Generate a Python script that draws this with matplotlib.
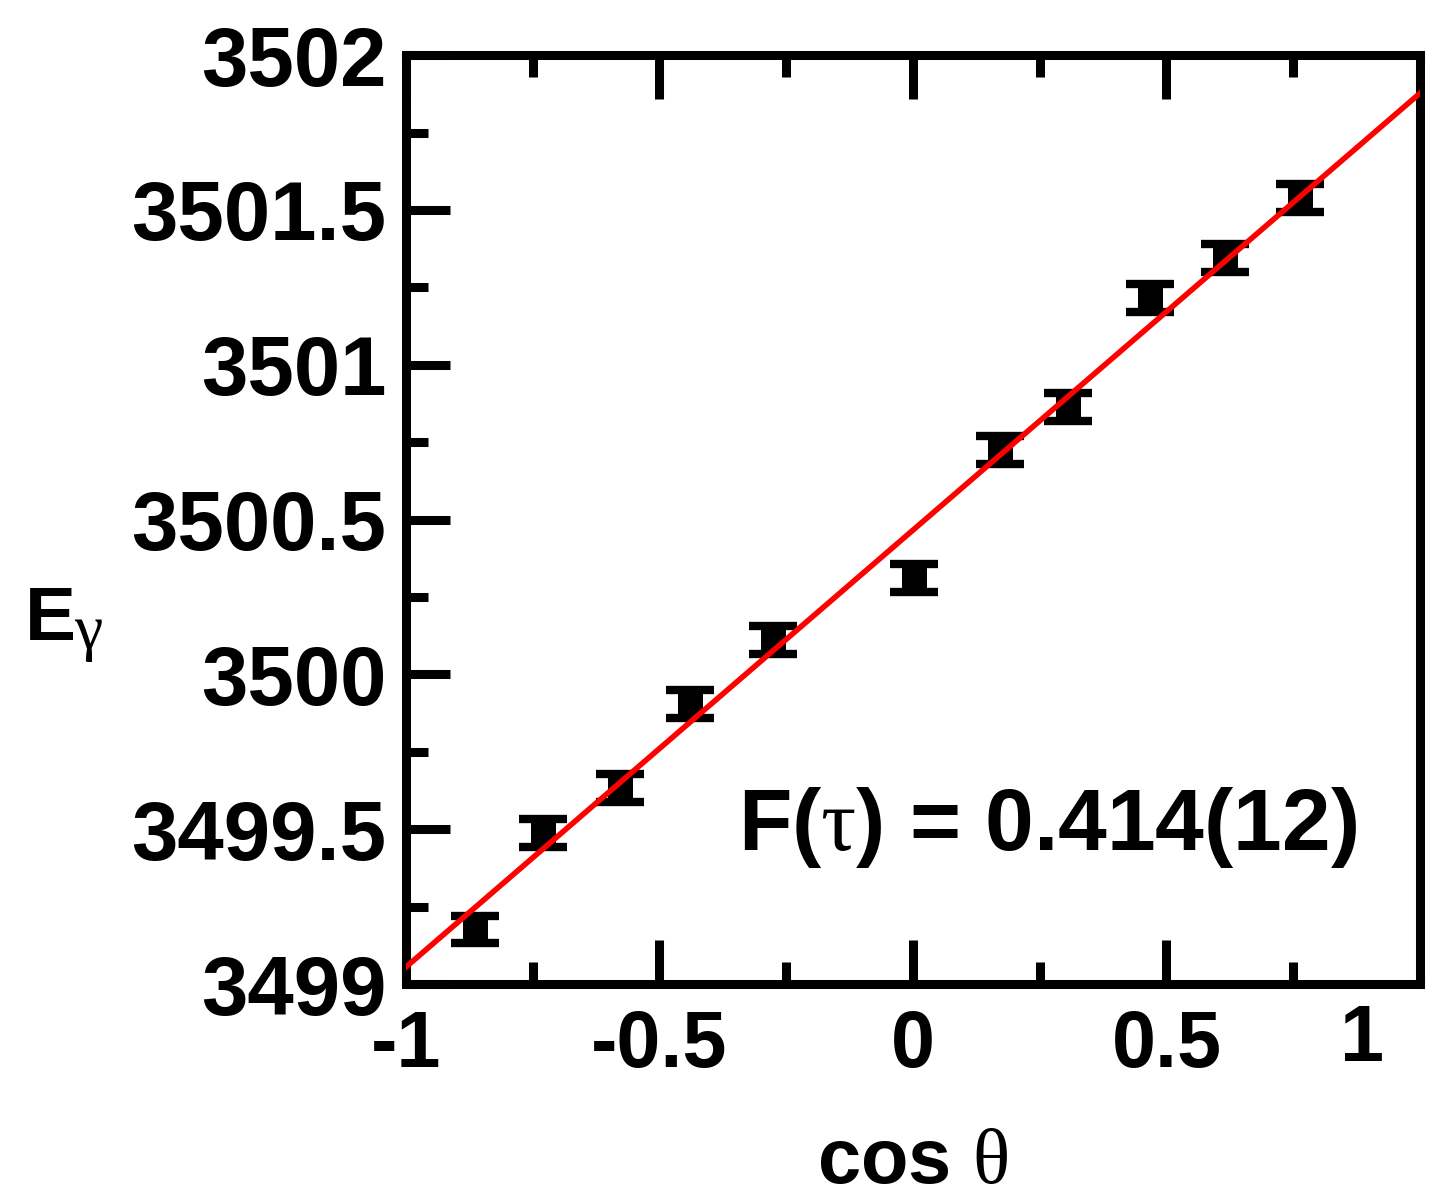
import numpy as np
import matplotlib
matplotlib.use('Agg')
import matplotlib.pyplot as plt

plt.rcParams['font.family'] = ['Liberation Sans', 'DejaVu Sans']
plt.rcParams['mathtext.fontset'] = 'custom'
plt.rcParams['mathtext.it'] = 'Liberation Serif:weight=normal'
plt.rcParams['mathtext.rm'] = 'Liberation Serif:weight=normal'

# measured points: cos(theta) vs gamma energy
cos_theta = [-0.864, -0.730, -0.578, -0.440, -0.276, 0.002, 0.172, 0.306, 0.467, 0.615, 0.764]
e_gamma = [3499.176, 3499.488, 3499.633, 3499.904, 3500.111, 3500.311,
           3500.724, 3500.863, 3501.215, 3501.344, 3501.538]
e_err = [0.045] * 11

# linear fit
fit_slope = 1.411
fit_intercept = 3500.466
fit_x = [-1.0, 1.0]

x_ticks = [-1, -0.5, 0, 0.5]
x_tick_labels = ['-1', '-0.5', '0', '0.5']
y_ticks = [3499, 3499.5, 3500, 3500.5, 3501, 3501.5, 3502]
y_tick_labels = ['3499', '3499.5', '3500', '3500.5', '3501', '3501.5', '3502']

fig = plt.figure(figsize=(14.39, 12.03), dpi=100)
ax = fig.add_axes([0.2821, 0.1820, 0.7047, 0.7722])

ax.errorbar(cos_theta, e_gamma, yerr=e_err, fmt='none', ecolor='black',
            elinewidth=18, capsize=17, capthick=6, zorder=2)
fit_y = [fit_slope * v + fit_intercept for v in fit_x]
ax.plot(fit_x, fit_y, color='red', lw=4, zorder=3)

ax.set_xlim(-1, 1)
ax.set_ylim(3499, 3502)
ax.set_xticks(x_ticks)
ax.set_xticklabels(x_tick_labels, fontsize=57, fontweight='bold')
ax.set_xticks(np.arange(-0.75, 1.0, 0.5), minor=True)
ax.set_yticks(y_ticks)
ax.set_yticklabels(y_tick_labels, fontsize=60, fontweight='bold')
ax.set_yticks(np.arange(3499.25, 3502, 0.5), minor=True)

ax.tick_params(which='both', direction='in', top=True, right=False, width=6.5)
ax.tick_params(which='major', length=32)
ax.tick_params(which='minor', length=16)
ax.tick_params(axis='y', which='major', pad=14)
ax.tick_params(axis='x', which='major', pad=18)
for s in ax.spines.values():
    s.set_linewidth(6.5)

# the "1" label sits left of the corner in the original
ax.annotate('1', xy=(1, 0), xycoords=('data', 'axes fraction'),
            xytext=(-42, -14), textcoords='offset points',
            ha='center', va='top', fontsize=57, fontweight='bold')

ax.set_xlabel(r'cos $\theta$', fontsize=56, fontweight='bold', labelpad=30)

# y label: bold E with a serif gamma below-right
fig.text(25 / 1439, 1 - 640 / 1203, 'E', fontsize=55,
         fontweight='bold', ha='left', va='baseline')
fig.text(74 / 1439, 1 - 648 / 1203, 'γ', fontsize=46,
         family='Liberation Serif', ha='left', va='baseline')

ax.text(-0.345, 3499.433, r'F($\tau$) = 0.414(12)', fontsize=63,
        fontweight='bold', ha='left', va='baseline')

fig.savefig('out.png', dpi=100)
